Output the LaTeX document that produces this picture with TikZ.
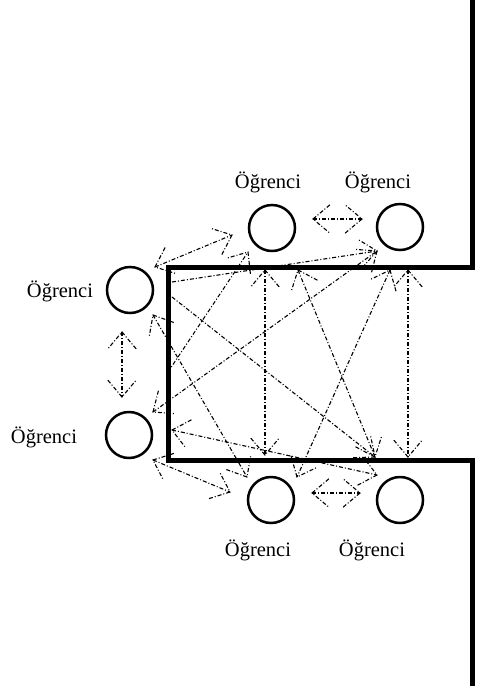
\documentclass[tikz,border=0pt]{standalone}
\usepackage{fontspec}
\setmainfont{Liberation Serif}
\usetikzlibrary{calc}

\tikzset{
  wall/.style={line width=5pt, line join=miter},
  desk/.style={circle, draw, line width=2.5pt, minimum size=46pt, inner sep=0pt},
  route/.style={line width=1.1pt, dash pattern=on 4pt off 2pt on 1pt off 2pt},
  pupil/.style={font=\fontsize{20.5}{24}\selectfont, inner sep=0pt}
}

% open V head drawn with the same dash-dot line
\newcommand{\barb}[2]{\draw[route] ($(#1)!22pt!40:(#2)$) -- (#1) -- ($(#1)!22pt!-40:(#2)$);}

\begin{document}
\begin{tikzpicture}[x=1pt,y=-1pt]
    \useasboundingbox (0,0) rectangle (484,686);

    % walls of the room
    \draw[wall] (472,0) -- (472,267) -- (168,267) -- (168,460) -- (472,460) -- (472,686);

    % students
    \node[desk] (tl) at (272,228) {};
    \node[desk] (tr) at (400,227) {};
    \node[desk] (lu) at (130,290) {};
    \node[desk] (ll) at (129,435) {};
    \node[desk] (bl) at (271,500) {};
    \node[desk] (br) at (400,500) {};

    \node[pupil] (ntl) at (268,182) {Öğrenci};
    \node[pupil] (ntr) at (378,182) {Öğrenci};
    \node[pupil] (nlu) at (60,291) {Öğrenci};
    \node[pupil] (nll) at (44,437) {Öğrenci};
    \node[pupil] (nbl) at (258,550) {Öğrenci};
    \node[pupil] (nbr) at (372,550) {Öğrenci};

    % end points of the paths
    \coordinate (a1) at (265,270);
    \coordinate (a2) at (298,270);
    \coordinate (a3) at (390,270);
    \coordinate (a4) at (408,270);
    \coordinate (b1) at (265,455);
    \coordinate (b2) at (297,477);
    \coordinate (b3) at (375,457);
    \coordinate (b4) at (408,457);
    \coordinate (c1) at (153,315);
    \coordinate (c2) at (153,412);
    \coordinate (c3) at (153,460);
    \coordinate (d1) at (247,477);
    \coordinate (e1) at (377,251);
    \coordinate (e2) at (248,252);
    \coordinate (e3) at (155,267);
    \coordinate (e4) at (232,235);
    \coordinate (f1) at (377,475);
    \coordinate (f2) at (230,492);
    \coordinate (w1) at (172,297);
    \coordinate (w2) at (168,372);
    \coordinate (w3) at (172,282);
    \coordinate (w4) at (172,430);
    \coordinate (g1) at (313,219);
    \coordinate (g2) at (362,219);
    \coordinate (h1) at (312,493);
    \coordinate (h2) at (360,493);
    \coordinate (k1) at (122,332);
    \coordinate (k2) at (122,397);

    % paths across the room
    \draw[route] (a1) -- (b1); \barb{a1}{b1} \barb{b1}{a1}
    \draw[route] (a4) -- (b4); \barb{a4}{b4} \barb{b4}{a4}
    \draw[route] (a2) -- (b3); \barb{a2}{b3} \barb{b3}{a2}
    \draw[route] (a3) -- (b2); \barb{a3}{b2} \barb{b2}{a3}
    \draw[route] (w1) -- (b3); \barb{b3}{w1}
    \draw[route] (c1) -- (d1); \barb{c1}{d1} \barb{d1}{c1}
    \draw[route] (c2) -- (e1); \barb{c2}{e1} \barb{e1}{c2}
    \draw[route] (w2) -- (e2); \barb{e2}{w2}
    \draw[route] (w3) -- (e1); \barb{e1}{w3}
    \draw[route] (e3) -- (e4); \barb{e3}{e4} \barb{e4}{e3}
    \draw[route] (w4) -- (f1); \barb{w4}{f1} \barb{f1}{w4}
    \draw[route] (c3) -- (f2); \barb{c3}{f2} \barb{f2}{c3}

    % neighbours
    \draw[route] (g1) -- (g2); \barb{g1}{g2} \barb{g2}{g1}
    \draw[route] (h1) -- (h2); \barb{h1}{h2} \barb{h2}{h1}
    \draw[route] (k1) -- (k2); \barb{k1}{k2} \barb{k2}{k1}

\end{tikzpicture}
\end{document}
